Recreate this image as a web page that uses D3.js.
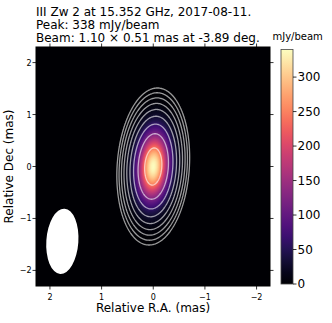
<!DOCTYPE html>
<html>
<head>
<meta charset="utf-8">
<script src="https://cdn.jsdelivr.net/npm/d3@7"></script>
<style>
  body { margin: 0; background: #fff; }
  svg { display: block; font-family: "DejaVu Sans", sans-serif; }
</style>
</head>
<body>
<div id="vis"></div>
<script>
// title lines
var titleLines = [
  'III Zw 2 at 15.352 GHz, 2017-08-11.',
  'Peak: 338 mJy/beam',
  'Beam: 1.10 \u00d7 0.51 mas at -3.89 deg.'
];

// ticks
var xTicks = [2, 1, 0, -1, -2];
var yTicks = [2, 1, 0, -1, -2];
var cbarTicks = [0, 50, 100, 150, 200, 250, 300];
var cbarMax = 340;

// source model (mas, mJy/beam): peak, fwhm major, fwhm minor, position angle
var srcPeak = 338;
var srcCenter = [0, 0];
var srcFwhm = [1.04, 0.48];
var srcPA = -3.89;

// contour levels (mJy/beam), doubling
var contourLevels = [0.95, 1.9, 3.8, 7.6, 15.2, 30.4, 60.8, 121.6, 243.2];

// beam ellipse as drawn: center, full height/width (mas), pa
var beamCenter = [1.76, -1.44];
var beamSize = [1.26, 0.62];
var beamPA = -3.89;

var width = 332, height = 323;
var plot = { left: 36, right: 270, top: 47, bottom: 286 };
var cbar = { left: 281, right: 293, top: 49.5, bottom: 284 };

var svg = d3.select('#vis').append('svg')
  .attr('width', width)
  .attr('height', height);

var x = d3.scaleLinear().domain([2.27, -2.26]).range([plot.left, plot.right]);
var y = d3.scaleLinear().domain([-2.3, 2.3]).range([plot.bottom, plot.top]);
var color = d3.scaleSequential(d3.interpolateMagma).domain([0, cbarMax]);

// sample the model on a 1 px grid
var nx = plot.right - plot.left;
var ny = plot.bottom - plot.top;
var sigMaj = srcFwhm[0] / 2.3548, sigMin = srcFwhm[1] / 2.3548;
var pa = srcPA * Math.PI / 180;
var grid = new Float64Array(nx * ny);
for (var j = 0; j < ny; j++) {
  for (var i = 0; i < nx; i++) {
    var dx = x.invert(plot.left + i + 0.5) - srcCenter[0];
    var dy = y.invert(plot.top + j + 0.5) - srcCenter[1];
    var u = dx * Math.sin(pa) + dy * Math.cos(pa);
    var v = dx * Math.cos(pa) - dy * Math.sin(pa);
    grid[j * nx + i] = srcPeak * Math.exp(-(u * u / (2 * sigMaj * sigMaj) + v * v / (2 * sigMin * sigMin)));
  }
}

// image
var canvas = document.createElement('canvas');
canvas.width = nx; canvas.height = ny;
var ctx = canvas.getContext('2d');
var img = ctx.createImageData(nx, ny);
for (var k = 0; k < nx * ny; k++) {
  var c = d3.rgb(color(grid[k]));
  img.data[k * 4] = c.r;
  img.data[k * 4 + 1] = c.g;
  img.data[k * 4 + 2] = c.b;
  img.data[k * 4 + 3] = 255;
}
ctx.putImageData(img, 0, 0);

svg.append('image')
  .attr('x', plot.left)
  .attr('y', plot.top)
  .attr('width', nx)
  .attr('height', ny)
  .attr('preserveAspectRatio', 'none')
  .attr('href', canvas.toDataURL());

// contours
var contours = d3.contours().size([nx, ny]).thresholds(contourLevels)(grid);
var proj = d3.geoTransform({
  point: function (gx, gy) {
    this.stream.point(plot.left + gx, plot.top + gy);
  }
});
svg.append('g')
  .selectAll('path')
  .data(contours)
  .enter().append('path')
  .attr('d', d3.geoPath(proj))
  .attr('fill', 'none')
  .attr('stroke', '#fff')
  .attr('stroke-opacity', 0.6)
  .attr('stroke-width', 1.3);

// beam
var bcx = x(beamCenter[0]), bcy = y(beamCenter[1]);
svg.append('ellipse')
  .attr('cx', bcx)
  .attr('cy', bcy)
  .attr('rx', Math.abs(x(beamSize[1] / 2) - x(0)))
  .attr('ry', Math.abs(y(beamSize[0] / 2) - y(0)))
  .attr('transform', 'rotate(' + (-beamPA) + ',' + bcx + ',' + bcy + ')')
  .attr('fill', '#fff');

// frame
svg.append('rect')
  .attr('x', plot.left)
  .attr('y', plot.top)
  .attr('width', nx)
  .attr('height', ny)
  .attr('fill', 'none')
  .attr('stroke', '#000')
  .attr('stroke-width', 1);

function fmt(d) { return d < 0 ? '\u2212' + (-d) : '' + d; }

var tickLen = 3.5;
var axes = svg.append('g').attr('stroke', '#000').attr('stroke-width', 0.8);
xTicks.forEach(function (t) {
  axes.append('line').attr('x1', x(t)).attr('x2', x(t)).attr('y1', plot.bottom).attr('y2', plot.bottom + tickLen);
  axes.append('line').attr('x1', x(t)).attr('x2', x(t)).attr('y1', plot.top).attr('y2', plot.top - tickLen);
});
yTicks.forEach(function (t) {
  axes.append('line').attr('y1', y(t)).attr('y2', y(t)).attr('x1', plot.left).attr('x2', plot.left - tickLen);
  axes.append('line').attr('y1', y(t)).attr('y2', y(t)).attr('x1', plot.right).attr('x2', plot.right + tickLen);
});

svg.append('g').selectAll('text')
  .data(xTicks)
  .enter().append('text')
  .attr('x', function (d) { return x(d); })
  .attr('y', 300)
  .attr('text-anchor', 'middle')
  .style('font-size', '8px')
  .text(fmt);

svg.append('g').selectAll('text')
  .data(yTicks)
  .enter().append('text')
  .attr('x', 31.5)
  .attr('y', function (d) { return y(d) + 3; })
  .attr('text-anchor', 'end')
  .style('font-size', '8px')
  .text(fmt);

// axis labels
svg.append('text')
  .attr('x', (plot.left + plot.right) / 2)
  .attr('y', 312)
  .attr('text-anchor', 'middle')
  .style('font-size', '12px')
  .text('Relative R.A. (mas)');

svg.append('text')
  .attr('transform', 'translate(12.5,' + (plot.top + plot.bottom) / 2 + ') rotate(-90)')
  .attr('text-anchor', 'middle')
  .style('font-size', '12px')
  .text('Relative Dec (mas)');

// title
svg.append('g').selectAll('text')
  .data(titleLines)
  .enter().append('text')
  .attr('x', plot.left)
  .attr('y', function (d, i) { return 15.5 + i * 13.3; })
  .style('font-size', '12px')
  .text(function (d) { return d; });

// colorbar
var cy = d3.scaleLinear().domain([0, cbarMax]).range([cbar.bottom, cbar.top]);
var grad = svg.append('defs').append('linearGradient')
  .attr('id', 'magma')
  .attr('x1', 0).attr('x2', 0).attr('y1', 1).attr('y2', 0);
d3.range(0, 1.0001, 0.05).forEach(function (t) {
  grad.append('stop').attr('offset', t).attr('stop-color', d3.interpolateMagma(t));
});
svg.append('rect')
  .attr('x', cbar.left)
  .attr('y', cbar.top)
  .attr('width', cbar.right - cbar.left)
  .attr('height', cbar.bottom - cbar.top)
  .attr('fill', 'url(#magma)')
  .attr('stroke', '#444')
  .attr('stroke-width', 0.8);

var cAxis = svg.append('g');
cbarTicks.forEach(function (t) {
  cAxis.append('line')
    .attr('x1', cbar.right).attr('x2', cbar.right + tickLen)
    .attr('y1', cy(t)).attr('y2', cy(t))
    .attr('stroke', '#000').attr('stroke-width', 0.8);
  cAxis.append('text')
    .attr('x', cbar.right + 4.5)
    .attr('y', cy(t) + 4.3)
    .style('font-size', '12px')
    .text(t);
});

svg.append('text')
  .attr('x', 272.5)
  .attr('y', 39.5)
  .style('font-size', '10px')
  .text('mJy/beam');
</script>
</body>
</html>
